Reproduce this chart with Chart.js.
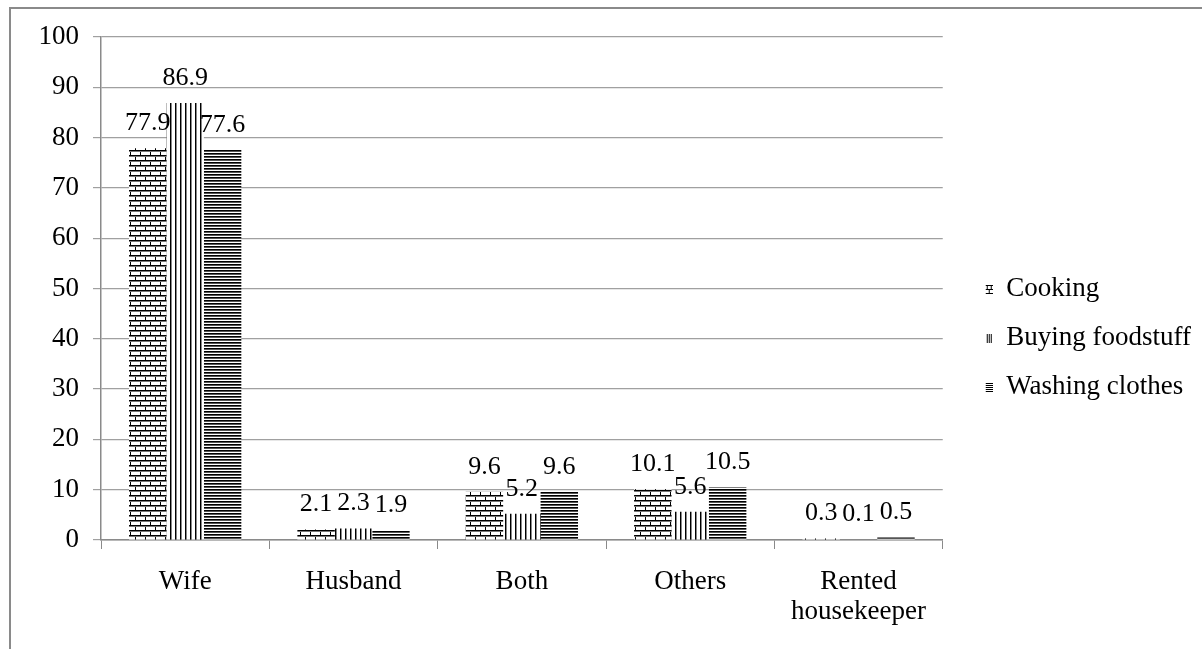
<!DOCTYPE html>
<html>
<head>
<meta charset="utf-8">
<script src="https://cdn.jsdelivr.net/npm/chart.js@4.4.1/dist/chart.umd.min.js"></script>
<style>
  html, body { margin: 0; padding: 0; background: #fff; overflow: hidden; }
  #frame { position: absolute; left: 9px; top: 7px; width: 1300px; height: 700px;
           border-left: 2px solid #8a8a8a; border-top: 2px solid #8a8a8a; }
  #wrap { position: absolute; left: 0; top: 0; width: 1202px; height: 649px; }
</style>
</head>
<body>
<div id="frame"></div>
<div id="wrap"><canvas id="chart"></canvas></div>
<script>
// --- DATOS ---
const categories = ['Wife', 'Husband', 'Both', 'Others', ['Rented', 'housekeeper']];
const seriesNames = ['Cooking', 'Buying foodstuff', 'Washing clothes'];
const cooking = [77.9, 2.1, 9.6, 10.1, 0.3];
const buyingFoodstuff = [86.9, 2.3, 5.2, 5.6, 0.1];
const washingClothes = [77.6, 1.9, 9.6, 10.5, 0.5];
const yTicks = [0, 10, 20, 30, 40, 50, 60, 70, 80, 90, 100];

const FONT = '"Liberation Serif", "Times New Roman", serif';

// --- PATRONES (ladrillo, verticales, horizontales) ---
function makeTile(kind) {
  const c = document.createElement('canvas');
  const ctx = c.getContext('2d');
  if (kind === 'brick') {
    c.width = 10; c.height = 10;
    ctx.fillStyle = '#fff'; ctx.fillRect(0, 0, 10, 10);
    ctx.fillStyle = '#000';
    ctx.fillRect(0, 0, 10, 1);
    ctx.fillRect(0, 5, 10, 1);
    ctx.fillRect(0, 0, 1, 5);
    ctx.fillRect(5, 5, 1, 5);
    ctx.fillStyle = '#777';
    ctx.fillRect(0, 1, 10, 1);
    ctx.fillRect(0, 6, 10, 1);
  } else if (kind === 'vertical') {
    c.width = 5; c.height = 4;
    ctx.fillStyle = '#fff'; ctx.fillRect(0, 0, 5, 4);
    ctx.fillStyle = '#000'; ctx.fillRect(0, 0, 1, 4);
    ctx.fillStyle = '#888'; ctx.fillRect(1, 0, 1, 4);
  } else {
    c.width = 3; c.height = 3;
    ctx.fillStyle = '#fff'; ctx.fillRect(0, 0, 3, 3);
    ctx.fillStyle = '#000'; ctx.fillRect(0, 0, 3, 1);
    ctx.fillStyle = '#555'; ctx.fillRect(0, 1, 3, 1);
  }
  return c;
}

function makePattern(kind) {
  return document.createElement('canvas').getContext('2d').createPattern(makeTile(kind), 'repeat');
}

// icono pequeño de la leyenda, con margen transparente a la izquierda
function legendIcon(kind) {
  const c = document.createElement('canvas');
  c.width = 28; c.height = 10;
  const ctx = c.getContext('2d');
  ctx.fillStyle = '#000';
  if (kind === 'brick') {
    ctx.fillRect(21, 1, 7, 1);
    ctx.fillRect(21, 5, 7, 1);
    ctx.fillRect(21, 9, 7, 1);
    ctx.fillRect(22, 1, 1, 4);
    ctx.fillRect(26, 1, 1, 4);
    ctx.fillRect(24, 5, 1, 4);
  } else if (kind === 'vertical') {
    ctx.fillRect(22, 1, 1, 9);
    ctx.fillRect(24, 1, 1, 9);
    ctx.fillRect(26, 1, 1, 9);
  } else {
    for (let y = 1; y < 10; y += 2) ctx.fillRect(21, y, 7, 1);
  }
  return c;
}

// etiquetas encima de cada barra
const valueLabels = {
  id: 'valueLabels',
  afterDatasetsDraw(chart) {
    const ctx = chart.ctx;
    ctx.save();
    ctx.font = '26px ' + FONT;
    ctx.fillStyle = '#000';
    ctx.textAlign = 'center';
    ctx.textBaseline = 'alphabetic';
    chart.data.datasets.forEach((ds, i) => {
      chart.getDatasetMeta(i).data.forEach((bar, j) => {
        ctx.fillText(ds.data[j].toFixed(1), bar.x, bar.y - 18);
      });
    });
    ctx.restore();
  }
};

const ctx = document.getElementById('chart').getContext('2d');
new Chart(ctx, {
  type: 'bar',
  data: {
    labels: categories,
    datasets: [
      { label: seriesNames[0], data: cooking, backgroundColor: makePattern('brick'), pointStyle: legendIcon('brick') },
      { label: seriesNames[1], data: buyingFoodstuff, backgroundColor: makePattern('vertical'), pointStyle: legendIcon('vertical') },
      { label: seriesNames[2], data: washingClothes, backgroundColor: makePattern('horizontal'), pointStyle: legendIcon('horizontal') }
    ]
  },
  options: {
    responsive: true,
    maintainAspectRatio: false,
    animation: false,
    datasets: { bar: { categoryPercentage: 0.667, barPercentage: 1.0 } },
    layout: { padding: { top: 37, left: 10, right: 1, bottom: 10 } },
    plugins: {
      tooltip: { enabled: false },
      legend: {
        position: 'right',
        labels: {
          font: { family: FONT, size: 27 },
          color: '#000',
          usePointStyle: true,
          pointStyleWidth: 28,
          boxHeight: 10,
          padding: 22
        }
      }
    },
    scales: {
      x: {
        afterFit: (axis) => { axis.height = 99; },
        grid: { display: true, drawOnChartArea: false, drawTicks: true, tickLength: 9, color: '#8a8a8a', offset: true },
        border: { display: true, color: '#8a8a8a', width: 1.5 },
        ticks: { font: { family: FONT, size: 27, lineHeight: 1.1 }, color: '#000', padding: 18, maxRotation: 0 }
      },
      y: {
        min: 0,
        max: 100,
        afterFit: (axis) => { axis.width = 91; },
        afterBuildTicks: (axis) => { axis.ticks = yTicks.map(v => ({ value: v })); },
        grid: { color: '#a0a0a0', lineWidth: 1.2, tickLength: 8 },
        border: { display: true, color: '#8a8a8a', width: 1.5 },
        ticks: { font: { family: FONT, size: 27 }, color: '#000', padding: 14 }
      }
    }
  },
  plugins: [valueLabels]
});
</script>
</body>
</html>
